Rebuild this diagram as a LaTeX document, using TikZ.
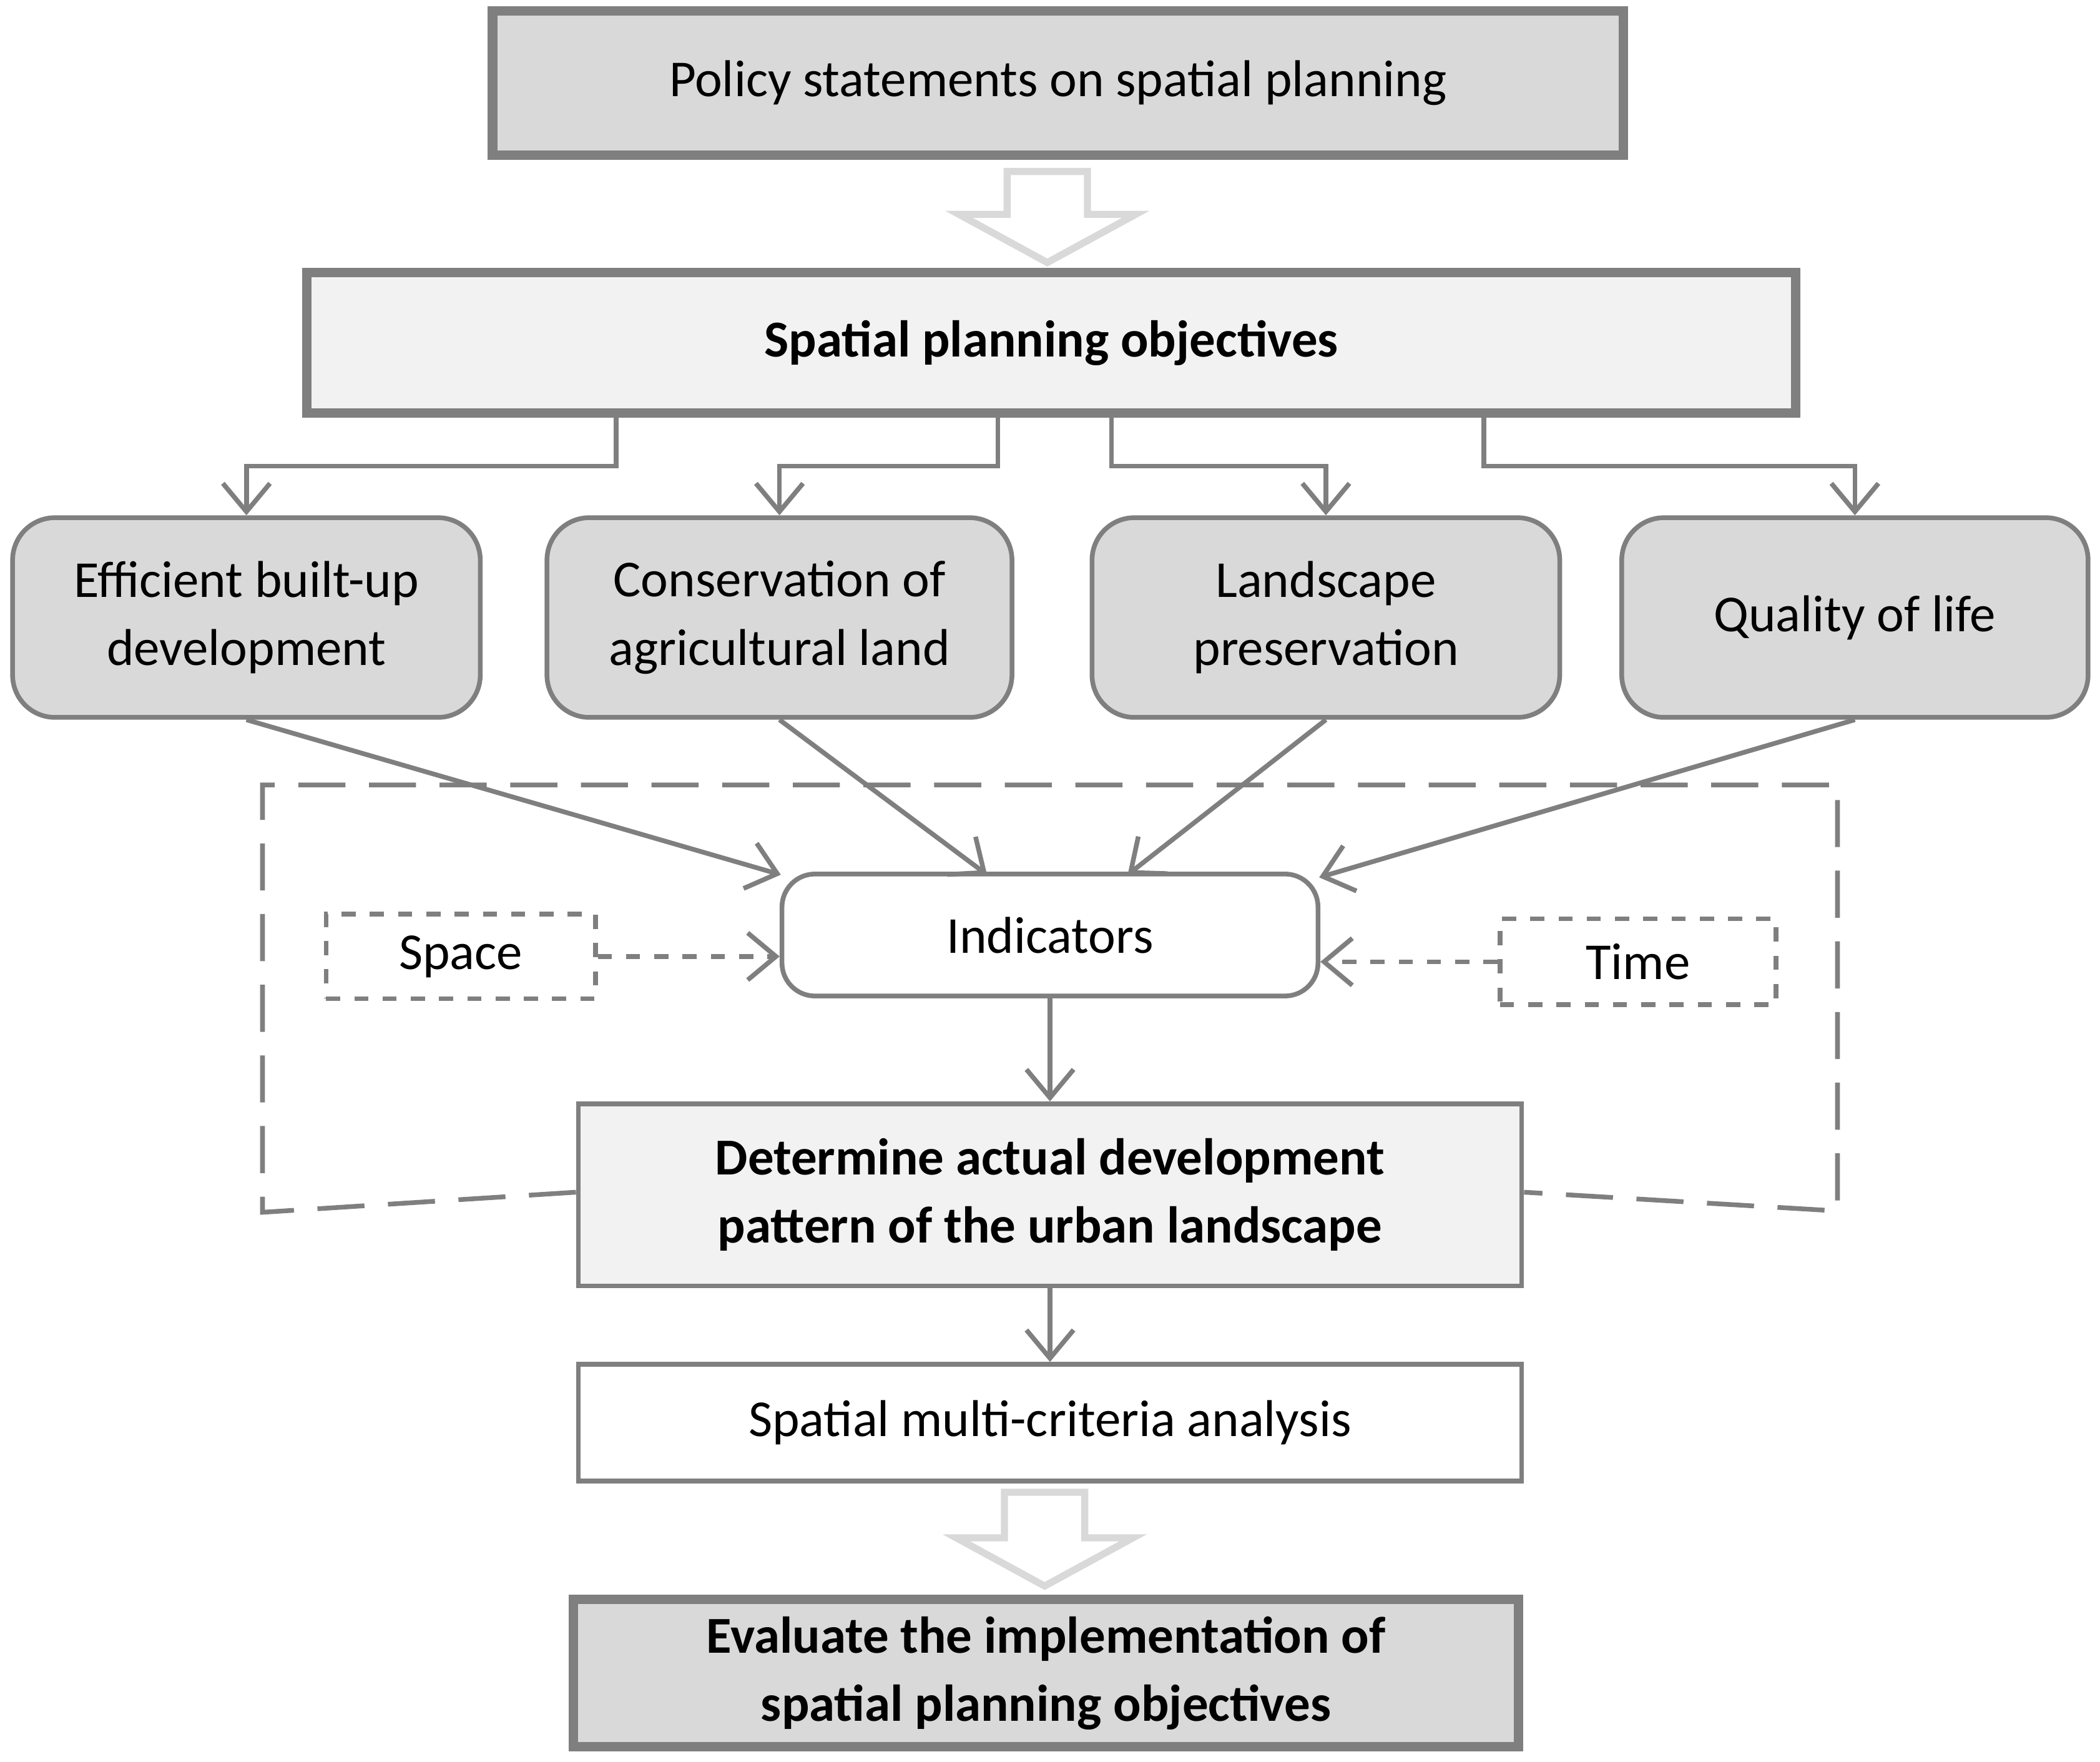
\documentclass[tikz,border=0pt]{standalone}
\usepackage{fontspec}
\setmainfont{Carlito}
\usetikzlibrary{arrows.meta}
\definecolor{bd}{HTML}{7F7F7F}
\definecolor{lg}{HTML}{D9D9D9}
\definecolor{vlg}{HTML}{F2F2F2}
\tikzset{
 txt/.style={font=\fontsize{11}{14.5}\selectfont, align=center, text=black},
 thickbox/.style={txt, draw=bd, line width=2pt, minimum width=#1},
 rbox/.style={txt, draw=bd, line width=1pt, rounded corners=9pt, fill=lg},
 conn/.style={draw=bd, line width=1pt, -{Straight Barb[length=6pt,width=10pt]}},
 dconn/.style={conn, dashed},
 hollow/.style={draw=lg, line width=1.5pt, fill=white},
}
\begin{document}
\begin{tikzpicture}[x=0.01cm,y=-0.01cm]
\useasboundingbox (0,0) rectangle (1568,1315);
% boxes
\node[thickbox, fill=lg, minimum width=8.44cm, minimum height=1.08cm] (pol) at (790,62) {Policy statements on spatial planning};
\node[thickbox, fill=vlg, minimum width=11.11cm, minimum height=1.05cm] (obj) at (785,256) {\textbf{Spatial planning objectives}};
\node[rbox, minimum width=3.49cm, minimum height=1.49cm] (b1) at (184,461) {Efficient built-up\\development};
\node[rbox, minimum width=3.47cm, minimum height=1.49cm] (b2) at (582,461) {Conservation of\\agricultural land};
\node[rbox, minimum width=3.49cm, minimum height=1.49cm] (b3) at (990,461) {Landscape\\preservation};
\node[rbox, minimum width=3.48cm, minimum height=1.49cm] (b4) at (1385,461) {Quality of life};
\node[txt, draw=bd, line width=1pt, rounded corners=7pt, fill=white, minimum width=4.0cm, minimum height=0.91cm] (ind) at (784,698) {Indicators};
\node[txt, draw=bd, dashed, line width=1pt, minimum width=2.01cm, minimum height=0.63cm] (sp) at (344,714) {Space};
\node[txt, draw=bd, dashed, line width=1pt, minimum width=2.06cm, minimum height=0.64cm] (ti) at (1223,718) {Time};
\node[txt, draw=bd, line width=1pt, fill=vlg, minimum width=7.04cm, minimum height=1.36cm] (det) at (784,892) {\textbf{Determine actual development}\\\textbf{pattern of the urban landscape}};
\node[txt, draw=bd, line width=1pt, fill=white, minimum width=7.04cm, minimum height=0.87cm] (sma) at (784,1062) {Spatial multi-criteria analysis};
\node[thickbox, fill=lg, minimum width=7.05cm, minimum height=1.1cm] (eva) at (781,1249) {\textbf{Evaluate the implementation of}\\\textbf{spatial planning objectives}};
% hollow arrows
\draw[hollow] (752,128) -- (812,128) -- (812,160) -- (848,160) -- (782,196) -- (716,160) -- (752,160) -- cycle;
\draw[hollow] (750,1114) -- (810,1114) -- (810,1148) -- (846,1148) -- (780,1184) -- (714,1148) -- (750,1148) -- cycle;
% branches
\draw[conn] (obj.south -| 460,0) -- (460,348) -- (184,348) -- (b1.north);
\draw[conn] (obj.south -| 745,0) -- (745,348) -- (582,348) -- (b2.north);
\draw[conn] (obj.south -| 830,0) -- (830,348) -- (990,348) -- (b3.north);
\draw[conn] (obj.south -| 1108,0) -- (1108,348) -- (1385,348) -- (b4.north);
% dashed frame
\draw[bd, line width=1pt, dash pattern=on 10pt off 5pt] (det.west |- 0,890) -- (196,905) -- (196,586) -- (1372,586) -- (1372,904) -- (det.east |- 0,890);
% to indicators
\coordinate (i1) at (583,653); \coordinate (i2) at (737,653);
\coordinate (i3) at (842,653); \coordinate (i4) at (985,655);
\draw[conn] (b1.south) -- (i1);
\draw[conn] (b2.south) -- (i2);
\draw[conn] (b3.south) -- (i3);
\draw[conn] (b4.south) -- (i4);
\draw[dconn] (sp.east) -- (sp.east -| ind.west);
\draw[dconn] (ti.west) -- (ti.west -| ind.east);
\draw[conn] (ind.south) -- (det.north);
\draw[conn] (det.south) -- (sma.north);
\end{tikzpicture}
\end{document}
